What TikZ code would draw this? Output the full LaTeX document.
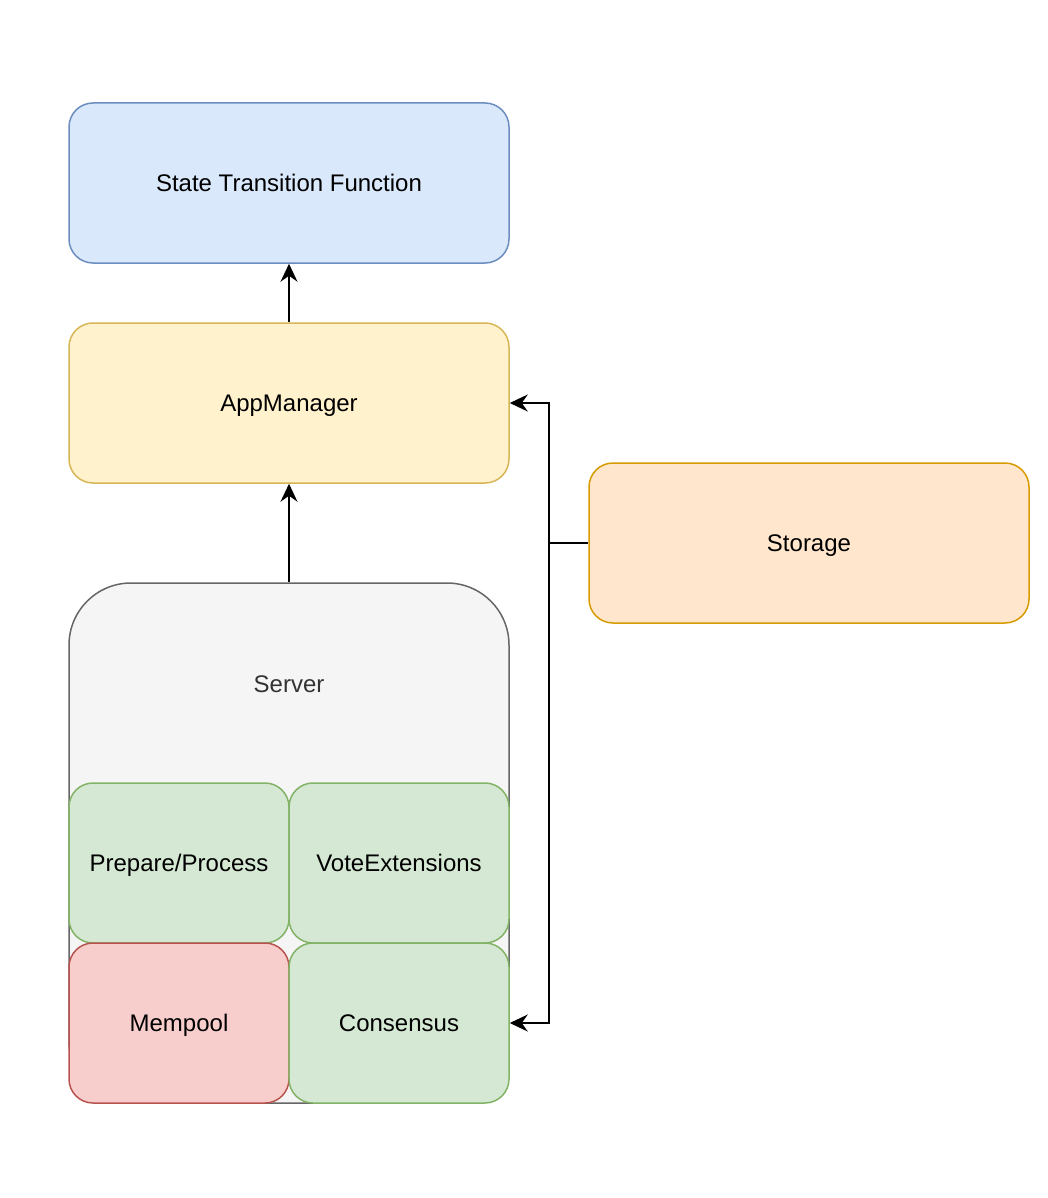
\documentclass[tikz,border=0pt]{standalone}
\usepackage{fontspec}
\setmainfont{Liberation Sans}
\usetikzlibrary{arrows.meta}
\definecolor{bluef}{HTML}{DAE8FC}\definecolor{blued}{HTML}{6C8EBF}
\definecolor{yelf}{HTML}{FFF2CC}\definecolor{yeld}{HTML}{D6B656}
\definecolor{orf}{HTML}{FFE6CC}\definecolor{ord}{HTML}{D79B00}
\definecolor{grf}{HTML}{F5F5F5}\definecolor{grd}{HTML}{666666}
\definecolor{gnf}{HTML}{D5E8D4}\definecolor{gnd}{HTML}{82B366}
\definecolor{rdf}{HTML}{F8CECC}\definecolor{rdd}{HTML}{B85450}
\definecolor{txtgray}{HTML}{333333}
\begin{document}
\begin{tikzpicture}[x=1pt,y=-1pt,
  lbl/.style={font=\fontsize{24}{28}\selectfont, text height=19.2pt, text depth=2pt, inner sep=0pt},
  box/.style={draw, line width=1.5pt, rounded corners=24pt, lbl},
  conn/.style={line width=2pt, -{Stealth[length=18pt,width=17pt,inset=6pt]}},
  plain/.style={line width=2pt}]
\useasboundingbox (0,0) rectangle (1048,1198);
\node[box, fill=bluef, draw=blued, minimum width=440pt, minimum height=160pt] (stf) at (289,183) {State Transition Function};
\node[box, fill=yelf, draw=yeld, minimum width=440pt, minimum height=160pt] (app) at (289,403) {AppManager};
\node[box, fill=orf, draw=ord, minimum width=440pt, minimum height=160pt] (sto) at (809,543) {Storage};
\node[box, fill=grf, draw=grd, rounded corners=62pt, minimum width=440pt, minimum height=520pt] (srv) at (289,843) {};
\node[lbl, text=txtgray] (srvlab) at (289,684) {Server};
\node[box, fill=gnf, draw=gnd, minimum width=220pt, minimum height=160pt] (pp) at (179,863) {Prepare/Process};
\node[box, fill=gnf, draw=gnd, minimum width=220pt, minimum height=160pt] (ve) at (399,863) {VoteExtensions};
\node[box, fill=rdf, draw=rdd, minimum width=220pt, minimum height=160pt] (mp) at (179,1023) {Mempool};
\node[box, fill=gnf, draw=gnd, minimum width=220pt, minimum height=160pt] (cs) at (399,1023) {Consensus};
\coordinate (j) at (549,543);
\draw[conn] (app.north) -- (stf.south);
\draw[conn] (srv.north) -- (app.south);
\draw[plain] (sto.west) -- (j);
\draw[conn] (j) |- (app.east);
\draw[conn] (j) |- (cs.east);
\end{tikzpicture}
\end{document}
